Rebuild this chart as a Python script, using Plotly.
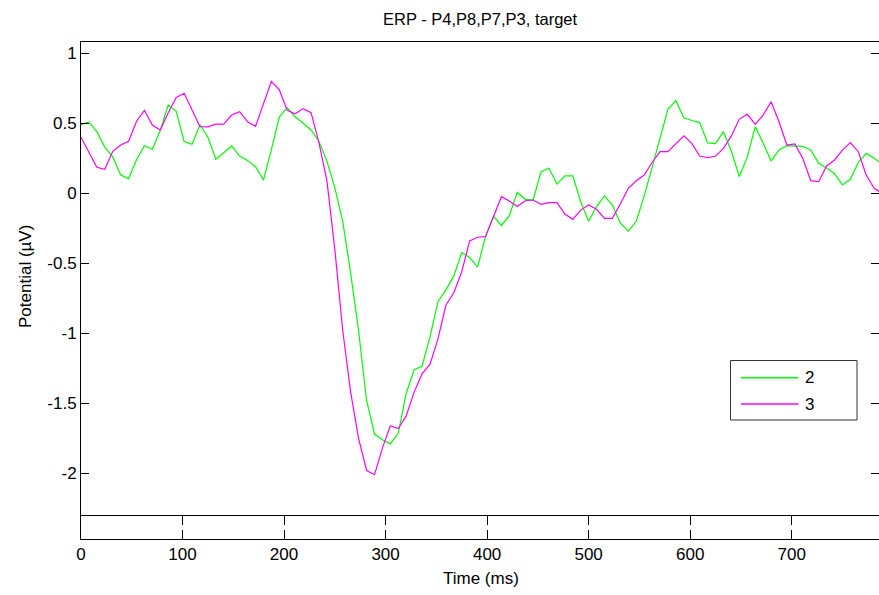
import plotly.graph_objects as go

title_text = "ERP - P4,P8,P7,P3, target"
x_title = "Time (ms)"
y_title = "Potential (\u00b5V)"
series_names = ["2", "3"]

time_ms = [0, 7.8, 15.6, 23.4, 31.3, 39.1, 46.9, 54.7, 62.5, 70.3, 78.1, 85.9, 93.8, 101.6,
           109.4, 117.2, 125, 132.8, 140.6, 148.4, 156.3, 164.1, 171.9, 179.7, 187.5, 195.3,
           203.1, 210.9, 218.8, 226.6, 234.4, 242.2, 250, 257.8, 265.6, 273.4, 281.3, 289.1,
           296.9, 304.7, 312.5, 320.3, 328.1, 335.9, 343.8, 351.6, 359.4, 367.2, 375, 382.8,
           390.6, 398.4, 406.3, 414.1, 421.9, 429.7, 437.5, 445.3, 453.1, 460.9, 468.8, 476.6,
           484.4, 492.2, 500, 507.8, 515.6, 523.4, 531.3, 539.1, 546.9, 554.7, 562.5, 570.3,
           578.1, 585.9, 593.8, 601.6, 609.4, 617.2, 625, 632.8, 640.6, 648.4, 656.3, 664.1,
           671.9, 679.7, 687.5, 695.3, 703.1, 710.9, 718.8, 726.6, 734.4, 742.2, 750, 757.8,
           765.6, 773.4, 781.3, 789.1]

erp_2 = [0.49, 0.51, 0.44, 0.33, 0.26, 0.13, 0.105, 0.24, 0.34, 0.315, 0.45, 0.63, 0.585, 0.37,
         0.35, 0.49, 0.40, 0.243, 0.29, 0.338, 0.266, 0.235, 0.19, 0.095, 0.31, 0.545,
         0.612, 0.547, 0.50, 0.452, 0.37, 0.23, 0.04, -0.2, -0.57, -0.98, -1.48, -1.72,
         -1.76, -1.79, -1.714, -1.43, -1.26, -1.235, -1.024, -0.774, -0.69, -0.59, -0.424, -0.458,
         -0.527, -0.31, -0.163, -0.23, -0.16, 0.007, -0.043, -0.048, 0.154, 0.179, 0.066, 0.124,
         0.124, -0.06, -0.2, -0.095, -0.019, -0.084, -0.214, -0.27, -0.2, -0.02, 0.185, 0.395,
         0.60, 0.662, 0.54, 0.52, 0.505, 0.36, 0.355, 0.44, 0.30, 0.12, 0.26, 0.476,
         0.36, 0.23, 0.31, 0.34, 0.34, 0.335, 0.31, 0.215, 0.18, 0.14, 0.06, 0.10,
         0.22, 0.285, 0.25, 0.21]

erp_3 = [0.40, 0.29, 0.186, 0.171, 0.30, 0.345, 0.372, 0.515, 0.593, 0.488, 0.452, 0.575, 0.685, 0.714,
         0.598, 0.476, 0.474, 0.494, 0.494, 0.559, 0.583, 0.511, 0.478, 0.635, 0.80, 0.74,
         0.592, 0.568, 0.605, 0.576, 0.36, 0.09, -0.40, -0.98, -1.42, -1.75, -1.98, -2.01,
         -1.82, -1.66, -1.68, -1.59, -1.42, -1.29, -1.22, -1.04, -0.80, -0.71, -0.56, -0.34,
         -0.314, -0.31, -0.16, -0.024, -0.055, -0.095, -0.053, -0.048, -0.079, -0.067, -0.067, -0.148,
         -0.186, -0.12, -0.084, -0.114, -0.179, -0.179, -0.075, 0.036, 0.09, 0.131, 0.22, 0.297,
         0.297, 0.35, 0.411, 0.357, 0.266, 0.254, 0.266, 0.321, 0.41, 0.53, 0.564, 0.493,
         0.559, 0.654, 0.511, 0.345, 0.352, 0.25, 0.09, 0.083, 0.195, 0.238, 0.309, 0.362,
         0.297, 0.131, 0.036, 0.0]

y_tickvals = [-2, -1.5, -1, -0.5, 0, 0.5, 1]
y_ticktext = ["-2", "-1.5", "-1", "-0.5", "0", "0.5", "1"]
x_tickvals = [0, 100, 200, 300, 400, 500, 600, 700]
x_ticktext = ["0", "100", "200", "300", "400", "500", "600", "700"]

colors = ["#00ff00", "#ff00ff"]
FONT = "Liberation Sans, Arial, sans-serif"
FS = 17

W, H = 879, 595
ML, MR, MT, MB = 81, 0, 42, 56
plot_w = W - ML - MR
plot_h = H - MT - MB
strip_px = 23
strip_frac = strip_px / plot_h

x_range = [0, 786]
y_range = [-2.305, 1.0807]

fig = go.Figure()
for name, vals, col in zip(series_names, [erp_2, erp_3], colors):
    fig.add_trace(go.Scatter(x=time_ms, y=vals, mode="lines", name=name,
                             line=dict(color=col, width=1.2), xaxis="x", yaxis="y",
                             showlegend=False))
# empty trace so the bottom time strip axes get drawn
fig.add_trace(go.Scatter(x=[], y=[], xaxis="x2", yaxis="y2", showlegend=False,
                         hoverinfo="skip"))

def px_x(px):
    return (px - ML) / plot_w

def px_y(py):
    return (H - MB - py) / plot_h

shapes = []
annotations = []
shapes.append(dict(type="rect", xref="paper", yref="paper",
                   x0=px_x(730.5), x1=px_x(857), y0=px_y(420), y1=px_y(360.5),
                   line=dict(color="#333333", width=1), fillcolor="white", layer="above"))
for i, (name, col) in enumerate(zip(series_names, colors)):
    ly = [377.7, 404][i]
    shapes.append(dict(type="line", xref="paper", yref="paper",
                       x0=px_x(741), x1=px_x(798.5), y0=px_y(ly), y1=px_y(ly),
                       line=dict(color=col, width=1.5), layer="above"))
    annotations.append(dict(text=name, xref="paper", yref="paper", x=px_x(803), y=px_y(ly),
                            xanchor="left", yanchor="middle", showarrow=False,
                            font=dict(family=FONT, size=FS, color="black")))

annotations.append(dict(text=y_title, xref="paper", yref="paper", x=px_x(25), y=px_y(277),
                        xanchor="center", yanchor="middle", textangle=-90, showarrow=False,
                        font=dict(family=FONT, size=FS, color="black")))
annotations.append(dict(text=x_title, xref="paper", yref="paper", x=px_x(481), y=px_y(578),
                        xanchor="center", yanchor="middle", showarrow=False,
                        font=dict(family=FONT, size=FS, color="black")))
annotations.append(dict(text=title_text, xref="paper", yref="paper", x=px_x(480), y=px_y(19),
                        xanchor="center", yanchor="middle", showarrow=False,
                        font=dict(family=FONT, size=16.5, color="black")))

fig.update_layout(
    width=W, height=H,
    margin=dict(l=ML, r=MR, t=MT, b=MB, pad=0),
    paper_bgcolor="white", plot_bgcolor="white",
    font=dict(family=FONT, size=FS, color="black"),
    shapes=shapes, annotations=annotations,
    xaxis=dict(domain=[0, 1], range=x_range, anchor="y", side="top", showticklabels=False,
               ticks="", showline=True, mirror=False, linecolor="black", linewidth=1,
               showgrid=False, zeroline=False, fixedrange=True),
    yaxis=dict(domain=[strip_frac, 1], range=y_range, anchor="x", tickvals=y_tickvals,
               ticktext=y_ticktext, ticks="inside", ticklen=8, tickcolor="black",
               showline=True, mirror="ticks", linecolor="black", linewidth=1,
               showgrid=False, zeroline=False, fixedrange=True,
               tickfont=dict(family=FONT, size=FS, color="black")),
    xaxis2=dict(domain=[0, 1], range=x_range, anchor="y2", tickvals=x_tickvals,
                ticktext=x_ticktext, ticks="inside", ticklen=9, tickcolor="black",
                showline=True, mirror="ticks", linecolor="black", linewidth=1,
                showgrid=False, zeroline=False, fixedrange=True,
                tickfont=dict(family=FONT, size=FS, color="black")),
    yaxis2=dict(domain=[0, strip_frac], range=[0, 1], anchor="x2", showticklabels=False,
                ticks="", showline=True, mirror=True, linecolor="black", linewidth=1,
                showgrid=False, zeroline=False, fixedrange=True),
)

fig.write_html("out.html", config={"displayModeBar": False},
               post_script="document.body.style.margin='0';document.body.style.padding='0';")
